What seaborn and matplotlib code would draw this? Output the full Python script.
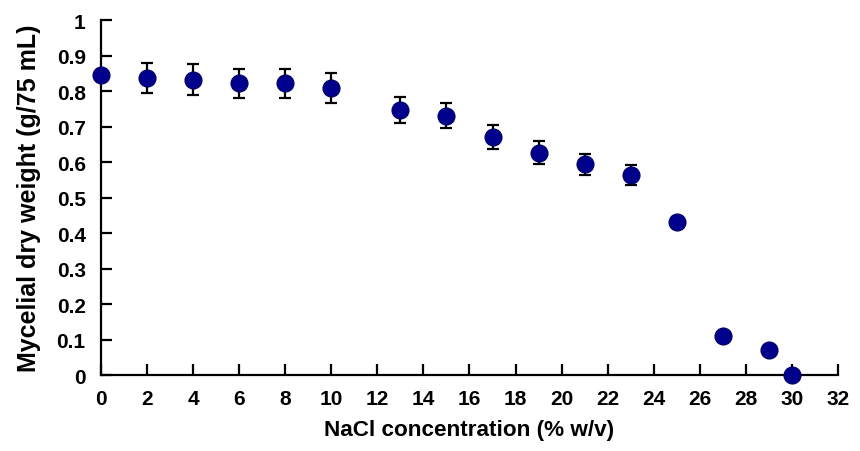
import matplotlib
matplotlib.use("Agg")
import matplotlib.pyplot as plt
import seaborn as sns
import pandas as pd

# NaCl concentration (% w/v) and mycelial dry weight (g/75 mL)
nacl = [0, 2, 4, 6, 8, 10, 13, 15, 17, 19, 21, 23, 25, 27, 29, 30]
weight = [0.846, 0.836, 0.832, 0.822, 0.822, 0.808, 0.746, 0.731, 0.670, 0.626,
          0.594, 0.564, 0.430, 0.111, 0.071, 0.0]
err = [0.010, 0.042, 0.043, 0.041, 0.041, 0.042, 0.037, 0.036, 0.034, 0.032,
       0.030, 0.029, 0.016, 0.008, 0.008, 0.0]
xticks = list(range(0, 33, 2))
yticks = [i / 10 for i in range(11)]

df = pd.DataFrame({"nacl": nacl, "weight": weight, "err": err})

sns.set_style("ticks")
plt.rcParams["font.family"] = ["Liberation Sans", "DejaVu Sans"]
plt.rcParams["font.weight"] = "bold"

fig = plt.figure(figsize=(8.6, 4.52), dpi=100)
ax = fig.add_axes([0.1174, 0.168, 0.857, 0.7855])

ax.errorbar(df.nacl, df.weight, yerr=df.err, fmt="none", ecolor="black",
            elinewidth=1.6, capsize=4.5, capthick=1.6, zorder=2)
sns.scatterplot(data=df, x="nacl", y="weight", ax=ax, s=150, color="#00008c",
                edgecolor="#000060", linewidth=0.8, zorder=3, clip_on=False)

ax.set_xlim(0, 32)
ax.set_ylim(0, 1)
ax.set_xticks(xticks, labels=[str(v) for v in xticks], fontsize=15, fontweight="bold")
ax.set_yticks(yticks, labels=[f"{v:g}" for v in yticks], fontsize=15, fontweight="bold")
ax.tick_params(direction="in", length=8, width=1.6, colors="black")
ax.tick_params(axis="x", pad=10)
ax.tick_params(axis="y", pad=11)
sns.despine(ax=ax)
for s in ["left", "bottom"]:
    ax.spines[s].set_linewidth(1.6)
    ax.spines[s].set_color("black")

ax.set_xlabel("NaCl concentration (% w/v)", fontsize=16.2, fontweight="bold",
              color="black", labelpad=8)
ax.set_ylabel("Mycelial dry weight (g/75 mL)", fontsize=18, fontweight="bold",
              color="black", labelpad=11)

fig.savefig("out.png", dpi=100)
